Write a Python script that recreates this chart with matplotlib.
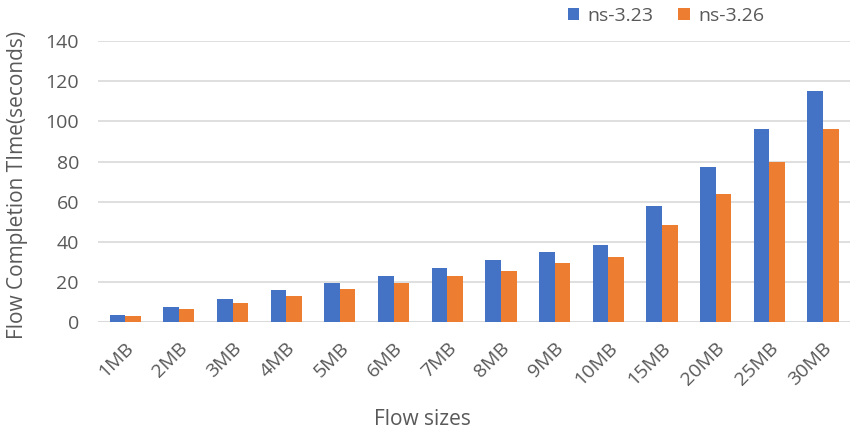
import numpy as np
import matplotlib.pyplot as plt
from matplotlib.transforms import ScaledTranslation

plt.rcParams['font.family'] = ['Open Sans', 'DejaVu Sans']

sizes = ['1MB', '2MB', '3MB', '4MB', '5MB', '6MB', '7MB',
         '8MB', '9MB', '10MB', '15MB', '20MB', '25MB', '30MB']
fct_323 = [3.7, 7.3, 11.5, 15.8, 19.3, 23.2, 26.8,
           31.2, 34.8, 38.3, 57.8, 77.3, 96.3, 115.2]
fct_326 = [3.0, 6.7, 9.7, 12.8, 16.5, 19.5, 23.2,
           25.7, 29.3, 32.3, 48.3, 64.0, 80.0, 96.3]

txt = '#595959'
fig = plt.figure(figsize=(8.55, 4.33), dpi=100)
ax = fig.add_axes([0.115, 0.256, 0.879, 0.649])

index = np.arange(len(sizes))
w = 0.29
ax.bar(index - w / 2, fct_323, w, color='#4472C4', label='ns-3.23', zorder=3)
ax.bar(index + w / 2, fct_326, w, color='#ED7D31', label='ns-3.26', zorder=3)

ax.set_xlim(-0.5, len(sizes) - 0.5)
ax.set_ylim(0, 140)
ax.set_yticks(range(0, 141, 20))
ax.yaxis.grid(True, color='#D9D9D9', linewidth=1.2, zorder=0)
for s in ax.spines.values():
    s.set_visible(False)
ax.axhline(0, color='#D9D9D9', linewidth=1.2, zorder=1)
ax.tick_params(length=0, labelsize=14, colors=txt)
ax.set_xticks(index)
ax.set_xticklabels(sizes, rotation=45, ha='right', va='center',
                   rotation_mode='anchor')
ax.tick_params(axis='x', pad=17)
ax.tick_params(axis='y', pad=14)
shift = ScaledTranslation(6 / 100, 0, fig.dpi_scale_trans)
for lab in ax.get_xticklabels():
    lab.set_transform(lab.get_transform() + shift)

ax.set_xlabel('Flow sizes', fontsize=15, color=txt, va='center')
ax.xaxis.set_label_coords(0.431, -0.345)
ax.set_ylabel('Flow Completion TIme(seconds)', fontsize=15, color=txt, va='center')
ax.yaxis.set_label_coords(-0.108, 0.49)

fig.legend(loc='center right', bbox_to_anchor=(764 / 855, 1 - 16 / 433), ncol=2,
           frameon=False, fontsize=14, labelcolor=txt, borderpad=0,
           borderaxespad=0, handlelength=0.6, handleheight=0.6,
           columnspacing=1.3, handletextpad=0.4)

plt.savefig('out.png', dpi=100)
